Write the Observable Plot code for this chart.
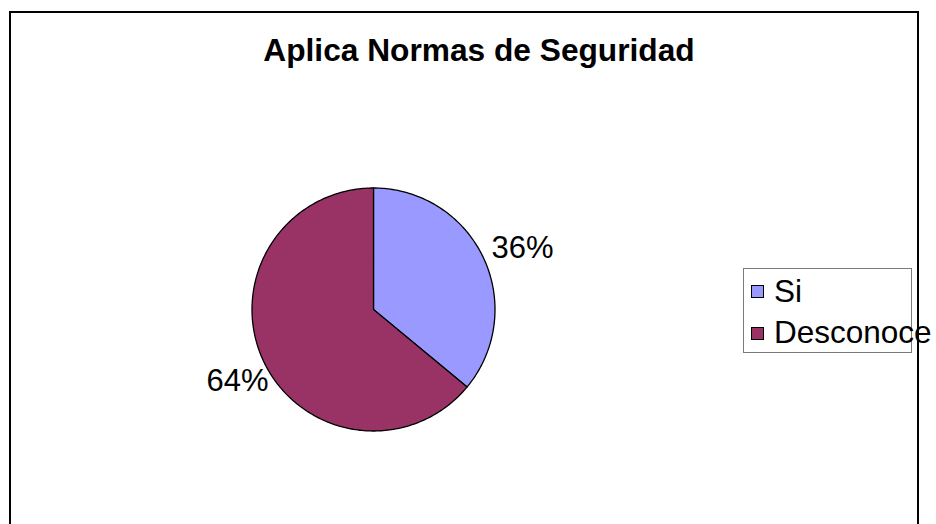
<!DOCTYPE html>
<html><head><meta charset="utf-8">
<script src="https://cdn.jsdelivr.net/npm/d3@7"></script>
<script src="https://cdn.jsdelivr.net/npm/@observablehq/plot@0.6"></script>
<style>
body{margin:0;background:#fff;}
#wrap{position:relative;width:936px;height:524px;overflow:hidden;font-family:"Liberation Sans",Arial,Helvetica,sans-serif;background:#fff;}
#frame{position:absolute;left:9px;top:11px;width:906px;height:600px;border:2px solid #000;}
#chart{position:absolute;left:0;top:0;}
#title{position:absolute;left:179px;top:35px;width:600px;text-align:center;font-weight:bold;font-size:31.7px;line-height:31.7px;white-space:nowrap;color:#000;}
#legendBox{position:absolute;left:743px;top:268px;width:167px;height:83px;border:1px solid #7a7a7a;}
.sw{position:absolute;width:11px;height:11px;border:1px solid #000;}
.lt{position:absolute;font-size:31.5px;line-height:31.5px;white-space:nowrap;color:#000;}
</style></head><body>
<div id="wrap">
  <div id="frame"></div>
  <div id="legendBox"></div>
  <div id="chart"></div>
  <div id="title"></div>
</div>
<script>
// ---- data ----
const title = "Aplica Normas de Seguridad";
const categories = ["Si", "Desconoce"];
const values = [36, 64];
const colors = ["#9999FF", "#993366"];

// ---- build slices (angles clockwise from 12 o'clock) ----
const total = d3.sum(values);
let acc = 0;
const slices = categories.map((c, i) => {
  const a0 = acc / total * 2 * Math.PI;
  acc += values[i];
  const a1 = acc / total * 2 * Math.PI;
  return {cat: c, value: values[i], a0, a1, mid: (a0 + a1) / 2};
});
const polyPts = [];
for (const s of slices) {
  const n = Math.max(2, Math.ceil((s.a1 - s.a0) / (Math.PI / 180)));
  polyPts.push({cat: s.cat, x: 0, y: 0});
  for (let k = 0; k <= n; k++) {
    const t = s.a0 + (s.a1 - s.a0) * k / n;
    polyPts.push({cat: s.cat, x: Math.sin(t), y: Math.cos(t)});
  }
  polyPts.push({cat: s.cat, x: 0, y: 0});
}
const labels = slices.map(s => ({
  text: Math.round(s.value / total * 100) + "%",
  x: Math.sin(s.mid), y: Math.cos(s.mid)
}));

const chart = Plot.plot({
  width: 936, height: 524, margin: 0,
  style: {background: "transparent", fontFamily: '"Liberation Sans", Arial, sans-serif', overflow: "visible"},
  x: {domain: [-1, 1], range: [251.5, 494.5], axis: null},
  y: {domain: [-1, 1], range: [430.5, 187.5], axis: null},
  color: {domain: categories, range: colors},
  marks: [
    Plot.line(polyPts, {x: "x", y: "y", z: "cat", fill: "cat", stroke: "#000", strokeWidth: 1.3, curve: "linear-closed"}),
    Plot.text(labels.filter(d => d.x >= 0), {x: "x", y: "y", text: "text", textAnchor: "start", lineAnchor: "middle", fontSize: 31, fill: "#000", dx: 8, dy: -9.3}),
    Plot.text(labels.filter(d => d.x < 0), {x: "x", y: "y", text: "text", textAnchor: "end", lineAnchor: "middle", fontSize: 31, fill: "#000", dx: 5, dy: 19.7})
  ]
});
document.getElementById("chart").appendChild(chart);
document.getElementById("title").textContent = title;

// ---- legend ----
const wrap = document.getElementById("wrap");
categories.forEach((c, i) => {
  const sw = document.createElement("div");
  sw.className = "sw";
  sw.style.left = "751px";
  sw.style.top = (285 + i * 42) + "px";
  sw.style.background = colors[i];
  wrap.appendChild(sw);
  const t = document.createElement("div");
  t.className = "lt";
  t.style.left = "774px";
  t.style.top = (276.3 + i * 41) + "px";
  t.textContent = c;
  wrap.appendChild(t);
});
</script>
</body></html>
